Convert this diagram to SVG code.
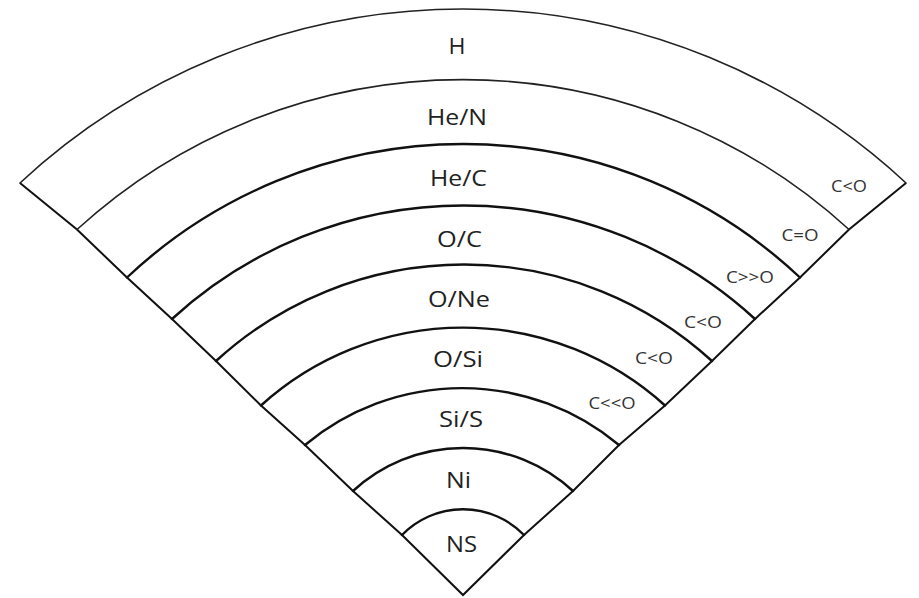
<svg xmlns="http://www.w3.org/2000/svg" width="919" height="598" viewBox="0 0 919 598">
<style>
.arc{fill:none;stroke:#111;stroke-width:2.4;stroke-linecap:round}
.thin{stroke-width:1.6;stroke:#222}
.side{fill:none;stroke:#111;stroke-width:2;stroke-linejoin:miter}
.lbl{font-family:"Open Sans","DejaVu Sans",sans-serif;font-size:22px;fill:#222;text-anchor:middle}
.rat{font-family:"Open Sans","DejaVu Sans",sans-serif;font-size:16px;fill:#333;text-anchor:middle}
</style>
<rect width="919" height="598" fill="#fff"/>
<g id="wedge-sides">
<polyline class="side" points="20,183 77,229.5 127,277.5 172,319 216,361 261,405.5 305,445 353,491 402,535 463,595 524,535 573,491 619,445 665,405.5 712,361 755,319 800,277.5 849,229.5 906,183"/>
</g>
<g id="layer-H">
<path class="arc thin" d="M20,183 A651,651 0 0 1 906,183"/>
<text class="lbl" x="457" y="54" font-size="24" textLength="17" lengthAdjust="spacingAndGlyphs">H</text>
</g>
<g id="layer-HeN">
<path class="arc thin" d="M77,229.5 A572,572 0 0 1 849,229.5"/>
<text class="lbl" x="457" y="125" textLength="60" lengthAdjust="spacingAndGlyphs">He/N</text>
<text class="rat" x="849" y="192" textLength="36" lengthAdjust="spacingAndGlyphs">C&lt;O</text>
</g>
<g id="layer-HeC">
<path class="arc" d="M127,277.5 A491,491 0 0 1 800,277.5"/>
<text class="lbl" x="458.5" y="186" textLength="57" lengthAdjust="spacingAndGlyphs">He/C</text>
<text class="rat" x="800" y="241" textLength="37" lengthAdjust="spacingAndGlyphs">C=O</text>
</g>
<g id="layer-OC">
<path class="arc" d="M172,319 A431,431 0 0 1 755,319"/>
<text class="lbl" x="459.5" y="247" textLength="45" lengthAdjust="spacingAndGlyphs">O/C</text>
<text class="rat" x="750" y="283" textLength="48" lengthAdjust="spacingAndGlyphs">C&gt;&gt;O</text>
</g>
<g id="layer-ONe">
<path class="arc" d="M216,361 A367,367 0 0 1 712,361"/>
<text class="lbl" x="459" y="307" textLength="62" lengthAdjust="spacingAndGlyphs">O/Ne</text>
<text class="rat" x="703" y="328" textLength="38" lengthAdjust="spacingAndGlyphs">C&lt;O</text>
</g>
<g id="layer-OSi">
<path class="arc" d="M261,405.5 A301,301 0 0 1 665,405.5"/>
<text class="lbl" x="458" y="367" textLength="50" lengthAdjust="spacingAndGlyphs">O/Si</text>
<text class="rat" x="654" y="364" textLength="38" lengthAdjust="spacingAndGlyphs">C&lt;O</text>
</g>
<g id="layer-SiS">
<path class="arc" d="M305,445 A245,245 0 0 1 619,445"/>
<text class="lbl" x="461" y="427" textLength="44" lengthAdjust="spacingAndGlyphs">Si/S</text>
<text class="rat" x="612" y="409" textLength="47" lengthAdjust="spacingAndGlyphs">C&lt;&lt;O</text>
</g>
<g id="layer-Ni">
<path class="arc" d="M353,491 A162,162 0 0 1 573,491"/>
<text class="lbl" x="458.5" y="488" textLength="25" lengthAdjust="spacingAndGlyphs">Ni</text>
</g>
<g id="layer-NS">
<path class="arc" d="M402,535 A85,85 0 0 1 524,535"/>
<text class="lbl" x="461.5" y="552" textLength="31" lengthAdjust="spacingAndGlyphs">NS</text>
</g>
</svg>
